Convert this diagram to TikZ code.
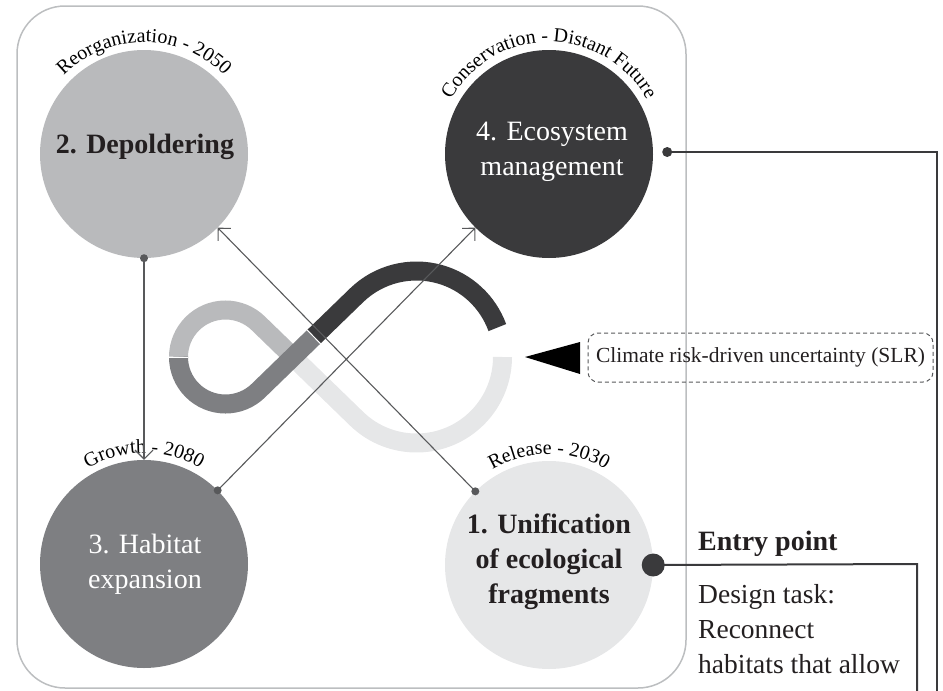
\documentclass[tikz,border=0pt]{standalone}
\usepackage{fontspec}
\setmainfont{Liberation Serif}
\usetikzlibrary{arrows.meta,decorations.text,calc}
\definecolor{cA}{HTML}{B9BABC}
\definecolor{cB}{HTML}{7E7F82}
\definecolor{cC}{HTML}{3A3A3C}
\definecolor{cD}{HTML}{E6E7E8}
\definecolor{ink}{HTML}{231F20}
\definecolor{wire}{HTML}{58595B}
\definecolor{framec}{HTML}{BCBEC0}
\begin{document}
\begin{tikzpicture}[x=1pt,y=1pt,
  phase/.style={circle, minimum size=208pt, inner sep=0pt, draw=none},
  bigtxt/.style={inner sep=0pt, anchor=base, font=\fontsize{28}{35}\selectfont},
  sidetxt/.style={inner sep=0pt, anchor=base west, text=ink, font=\fontsize{27.5}{35}\selectfont},
  conn/.style={draw=wire, line width=1.1pt, -{Straight Barb[length=9pt,width=18pt,line width=1.1pt]}},
  band/.style={line width=19pt},
  sep/.style={white, line width=1pt},
  arclabel/.style={decorate, decoration={text along path, text align=center,
      text={#1}}},
]
\clip (0,0) rectangle (943,-691);

% frame
\draw[framec, line width=1.5pt, rounded corners=48pt] (17,-6) rectangle (686,-688);

% phase circles
\node[phase, fill=cA] (c2) at (144,-154) {};
\node[phase, fill=cC] (c4) at (549,-154) {};
\node[phase, fill=cB] (c3) at (144,-564) {};
\node[phase, fill=cD] (c1) at (549,-565) {};

% infinity band
\coordinate (L) at (225.5,-357);
\coordinate (R) at (416.5,-357);
\coordinate (P) at (293,-357);
\coordinate (Q) at (313.8,-336.8);
\draw[band, cA] ($(L)+(180:47)$) arc[start angle=180, end angle=45.87, radius=47] -- (P);
\draw[band, cD] (P) -- ($(R)+(225.87:86)$) arc[start angle=225.87, end angle=360, radius=86];
\draw[band, cB] ($(L)+(180:47)$) arc[start angle=180, end angle=314.13, radius=47] -- (Q);
\draw[band, cC] (Q) -- ($(R)+(134.13:86)$) arc[start angle=134.13, end angle=20, radius=86];
\draw[sep] ($(Q)+(-6.8,7)$) -- ($(Q)+(6.8,-7)$);
\draw[sep] (169,-357) -- (188,-357);

% curved labels
\path[arclabel={|\fontsize{20}{20}\selectfont|Reorganization - 2050}]
  ($(c2.center)+(180:112)$) arc[start angle=180, end angle=0, radius=112];
\path[arclabel={|\fontsize{20}{20}\selectfont|Conservation - Distant Future}]
  ($(c4.center)+(180:112)$) arc[start angle=180, end angle=0, radius=112];
\path[arclabel={|\fontsize{20}{20}\selectfont|Growth - 2080}]
  ($(c3.center)+(180:111)$) arc[start angle=180, end angle=0, radius=111];
\path[arclabel={|\fontsize{20}{20}\selectfont|Release - 2030}]
  ($(c1.center)+(180:111)$) arc[start angle=180, end angle=0, radius=111];

% circle texts
\node[bigtxt, text=ink, font=\fontsize{28}{35}\selectfont\bfseries] (t2) at (145,-153) {2. Depoldering};
\node[bigtxt, text=white] (t4a) at (552,-140) {4. Ecosystem};
\node[bigtxt, text=white] (t4b) at (552,-175) {management};
\node[bigtxt, text=white] (t3a) at (145,-553) {3. Habitat};
\node[bigtxt, text=white] (t3b) at (145,-588) {expansion};
\node[bigtxt, text=ink, font=\fontsize{28}{35}\selectfont\bfseries] (t1a) at (549,-533) {1. Unification};
\node[bigtxt, text=ink, font=\fontsize{28}{35}\selectfont\bfseries] (t1b) at (549,-568) {of ecological};
\node[bigtxt, text=ink, font=\fontsize{28}{35}\selectfont\bfseries] (t1c) at (549,-603) {fragments};

% cycle connectors
\draw[conn] (c2.south) -- (c3.north);
\fill[wire] (c2.south) circle (4pt);
\draw[conn] (c3.45) -- (c4.225);
\fill[wire] (c3.45) circle (4pt);
\draw[conn] (c1.135) -- (c2.-45);
\fill[wire] (c1.135) circle (4pt);

% uncertainty
\fill[black] (525,-357) -- (580,-342) -- (580,-374) -- cycle;
\node[draw=wire, dashed, dash pattern=on 4pt off 3pt, line width=1pt, rounded corners=10pt,
      minimum width=345pt, minimum height=49pt, inner sep=0pt, text=ink,
      font=\fontsize{21.5}{21.5}\selectfont] (slr) at (760.5,-357.5) {Climate risk-driven uncertainty (SLR)};

% right connectors
\coordinate (e4) at ($(c4.east)+(14,2)$);
\coordinate (k4) at (937,-152);
\coordinate (b4) at (937,-700);
\draw[cC, line width=1.3pt] (e4) -- (k4) -- (b4);
\fill[cC] (e4) circle (5pt);
\coordinate (k1) at (917,-564);
\coordinate (b1) at (917,-700);
\draw[cC, line width=2pt] (c1.east) -- (k1) -- (b1);
\fill[cC] (c1.east) circle (11.5pt);

% entry point text
\node[sidetxt, font=\fontsize{28}{35}\selectfont\bfseries] (ep) at (698,-550) {Entry point};
\node[sidetxt] (d1) at (698,-603) {Design task:};
\node[sidetxt] (d2) at (698,-638) {Reconnect};
\node[sidetxt] (d3) at (698,-673) {habitats that allow};
\end{tikzpicture}
\end{document}
